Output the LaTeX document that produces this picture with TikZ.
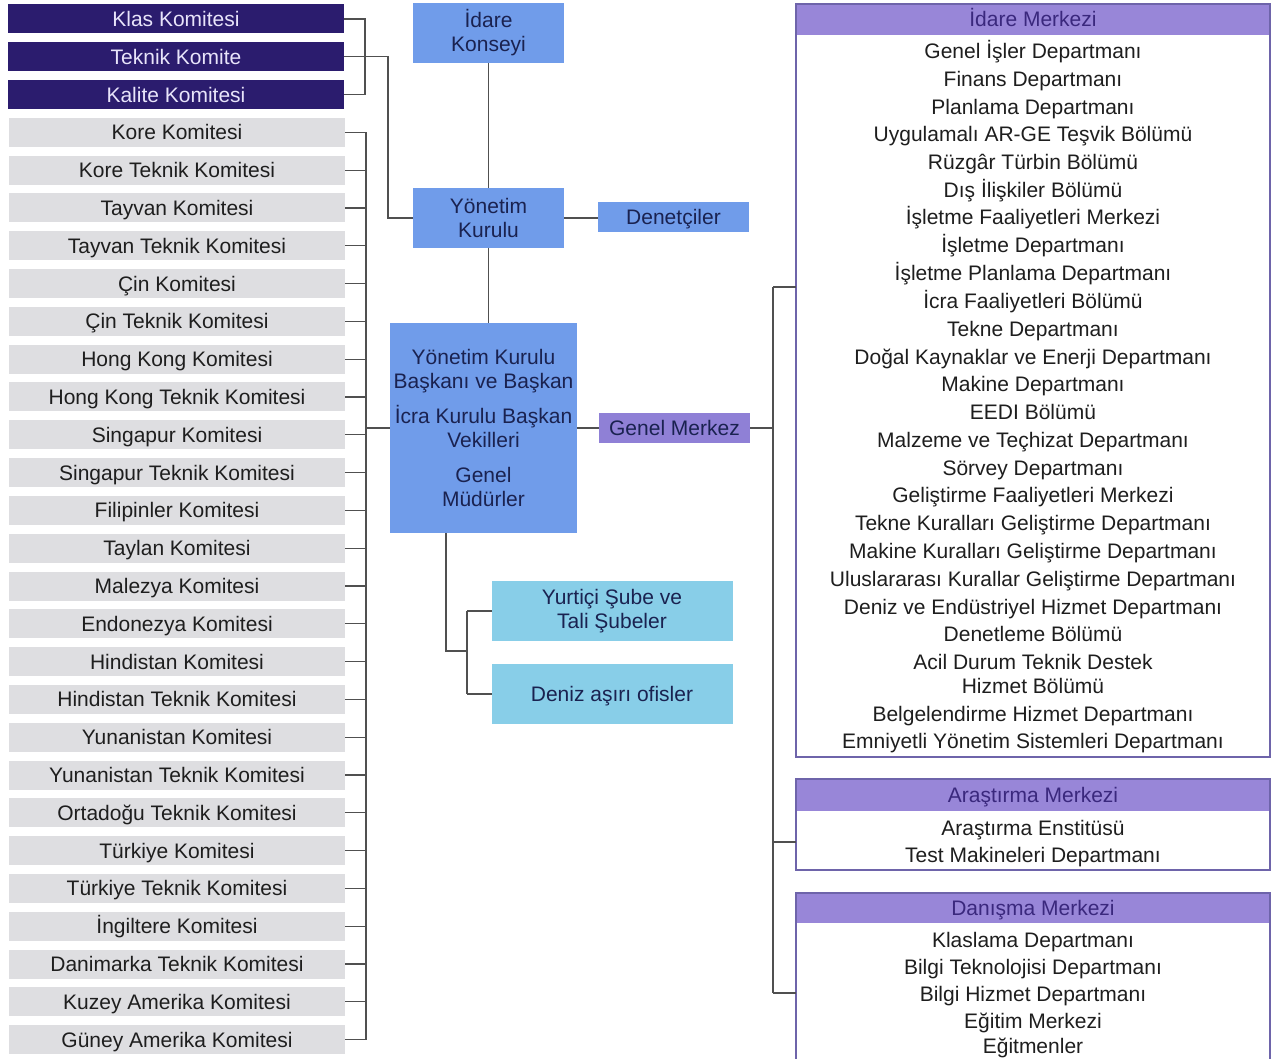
\documentclass[tikz,border=0pt]{standalone}
\usepackage{fontspec}
\setmainfont{Liberation Sans}
\definecolor{dkind}{RGB}{43,28,110}
\definecolor{dktxt}{RGB}{232,228,250}
\definecolor{grayb}{RGB}{222,222,225}
\definecolor{blueb}{RGB}{112,156,234}
\definecolor{cyanb}{RGB}{136,206,232}
\definecolor{gmpur}{RGB}{143,128,214}
\definecolor{hdrpur}{RGB}{152,134,216}
\definecolor{hdrtxt}{RGB}{58,40,125}
\definecolor{navy}{RGB}{26,34,80}
\definecolor{panelb}{RGB}{110,100,170}
\definecolor{linec}{RGB}{80,80,80}
\definecolor{txt}{RGB}{30,30,30}
\newcommand\bigf{\fontsize{21}{24}\selectfont}
\tikzset{
  base/.style={inner sep=0pt, outer sep=0pt, font=\bigf, text height=15pt, text depth=0pt},
  dkbox/.style={base, fill=dkind, text=dktxt, minimum width=336, minimum height=29},
  grbox/.style={base, fill=grayb, text=txt, minimum width=336, minimum height=29},
  blbox/.style={inner sep=0pt, outer sep=0pt, font=\bigf, fill=blueb, text=navy, align=center},
  cybox/.style={inner sep=0pt, outer sep=0pt, font=\bigf, fill=cyanb, text=navy, align=center, minimum width=241, minimum height=60},
  hdr/.style={base, fill=hdrpur, text=hdrtxt, minimum width=474},
  panel/.style={inner sep=0pt, outer sep=0pt, draw=panelb, line width=1.2pt, minimum width=474},
  item/.style={base, text=txt},
  conn/.style={draw=linec, line width=1.3pt}
}
\begin{document}
\begin{tikzpicture}[x=1pt,y=-1pt]
\useasboundingbox (0,0) rectangle (1278,1059);
\clip (0,0) rectangle (1278,1059);
\fill[white] (0,0) rectangle (1278,1059);

% left committees
\node[dkbox] (klas) at (176,19) {Klas Komitesi};
\node[dkbox] (teknik) at (176,56.8) {Teknik Komite};
\node[dkbox] (kalite) at (176,94.6) {Kalite Komitesi};
\foreach \t [count=\i] in {Kore Komitesi, Kore Teknik Komitesi, Tayvan Komitesi, Tayvan Teknik Komitesi, Çin Komitesi, Çin Teknik Komitesi, Hong Kong Komitesi, Hong Kong Teknik Komitesi, Singapur Komitesi, Singapur Teknik Komitesi, Filipinler Komitesi, Taylan Komitesi, Malezya Komitesi, Endonezya Komitesi, Hindistan Komitesi, Hindistan Teknik Komitesi, Yunanistan Komitesi, Yunanistan Teknik Komitesi, Ortadoğu Teknik Komitesi, Türkiye Komitesi, Türkiye Teknik Komitesi, İngiltere Komitesi, Danimarka Teknik Komitesi, Kuzey Amerika Komitesi, Güney Amerika Komitesi}{
  \pgfmathsetmacro\yy{19+37.8*(\i+2)}
  \node[grbox] (g\i) at (177,\yy) {\t};
}

% central boxes
\node[blbox, minimum width=151, minimum height=60] (ik) at (488.5,33) {İdare\\Konseyi};
\node[blbox, minimum width=151, minimum height=60] (yk) at (488.5,218) {Yönetim\\Kurulu};
\node[blbox, minimum width=151, minimum height=30, text height=15pt, text depth=0pt] (den) at (673.5,217) {Denetçiler};
\node[blbox, minimum width=187, minimum height=210] (big) at (483.5,428) {Yönetim Kurulu\\Başkanı ve Başkan\\[11pt]İcra Kurulu Başkan\\Vekilleri\\[11pt]Genel\\Müdürler};
\node[base, fill=gmpur, text=navy, minimum width=151, minimum height=30] (gm) at (674.5,428) {Genel Merkez};
\node[cybox] (yurt) at (612,611) {Yurtiçi Şube ve\\Tali Şubeler};
\node[cybox, text height=15pt, text depth=0pt] (deniz) at (612,694) {Deniz aşırı ofisler};

% right panels
\node[hdr, minimum height=31] (imh) at (1033,19.5) {İdare Merkezi};
\node[panel, minimum height=753] (imbox) at (1033,380.5) {};
\foreach \y/\t [count=\i] in {51/Genel İşler Departmanı, 79/Finans Departmanı, 107/Planlama Departmanı, 134/Uygulamalı AR-GE Teşvik Bölümü, 162/Rüzgâr Türbin Bölümü, 190/Dış İlişkiler Bölümü, 217/İşletme Faaliyetleri Merkezi, 245/İşletme Departmanı, 273/İşletme Planlama Departmanı, 301/İcra Faaliyetleri Bölümü, 329/Tekne Departmanı, 357/Doğal Kaynaklar ve Enerji Departmanı, 384/Makine Departmanı, 412/EEDI Bölümü, 440/Malzeme ve Teçhizat Departmanı, 468/Sörvey Departmanı, 495/Geliştirme Faaliyetleri Merkezi, 523/Tekne Kuralları Geliştirme Departmanı, 551/Makine Kuralları Geliştirme Departmanı, 579/Uluslararası Kurallar Geliştirme Departmanı, 607/Deniz ve Endüstriyel Hizmet Departmanı, 634/Denetleme Bölümü, 662/Acil Durum Teknik Destek, 686/Hizmet Bölümü, 714/Belgelendirme Hizmet Departmanı, 741/Emniyetli Yönetim Sistemleri Departmanı}{
  \node[item] (im\i) at (1033,\y) {\t};
}
\node[hdr, minimum height=32] (arh) at (1033,795) {Araştırma Merkezi};
\node[panel, minimum height=91] (arbox) at (1033,824.5) {};
\node[item] (ar1) at (1033,828) {Araştırma Enstitüsü};
\node[item] (ar2) at (1033,855) {Test Makineleri Departmanı};
\node[hdr, minimum height=30] (dah) at (1033,908) {Danışma Merkezi};
\node[panel, minimum height=190] (dabox) at (1033,988) {};
\foreach \y/\t [count=\i] in {940/Klaslama Departmanı, 967/Bilgi Teknolojisi Departmanı, 994/Bilgi Hizmet Departmanı, 1021/Eğitim Merkezi, 1046/Eğitmenler}{
  \node[item] (da\i) at (1033,\y) {\t};
}

% coordinates
\coordinate (dk) at (365,19);
\coordinate (tk) at (388,57);
\coordinate (bartop) at (366,132.4);
\coordinate (barbot) at (366,1039.6);
\coordinate (bl) at (446,651);
\coordinate (bb) at (467,612);
\coordinate (rtop) at (773,287);
\coordinate (rmid) at (773,842);
\coordinate (rbot) at (773,993);

% connectors
\draw[conn] (klas.east) -- (klas.east -| dk) -- (kalite.east -| dk) -- (kalite.east);
\draw[conn] (teknik.east) -- (teknik.east -| tk) -- (yk.west -| tk) -- (yk.west);
\foreach \i in {1,...,25}{ \draw[conn] (g\i.east) -- (g\i.east -| bartop); }
\draw[conn] (bartop) -- (barbot);
\draw[conn] (big.west -| bartop) -- (big.west);
\draw[conn] (ik.south) -- (yk.north);
\draw[conn] (yk.east) -- (yk.east -| den.west);
\draw[conn] (yk.south) -- (yk.south |- big.north);
\draw[conn] (big.east) -- (gm.west);
\draw[conn] (gm.east) -- (gm.east -| rtop);
\draw[conn] (rtop) -- (rbot);
\draw[conn] (rtop) -- (rtop -| imbox.west);
\draw[conn] (rmid) -- (rmid -| arbox.west);
\draw[conn] (rbot) -- (rbot -| dabox.west);
\draw[conn] (big.south -| bl) -- (bl) -- (bl -| bb);
\draw[conn] (yurt.west -| bb) -- (deniz.west -| bb);
\draw[conn] (yurt.west -| bb) -- (yurt.west);
\draw[conn] (deniz.west -| bb) -- (deniz.west);
\end{tikzpicture}
\end{document}
